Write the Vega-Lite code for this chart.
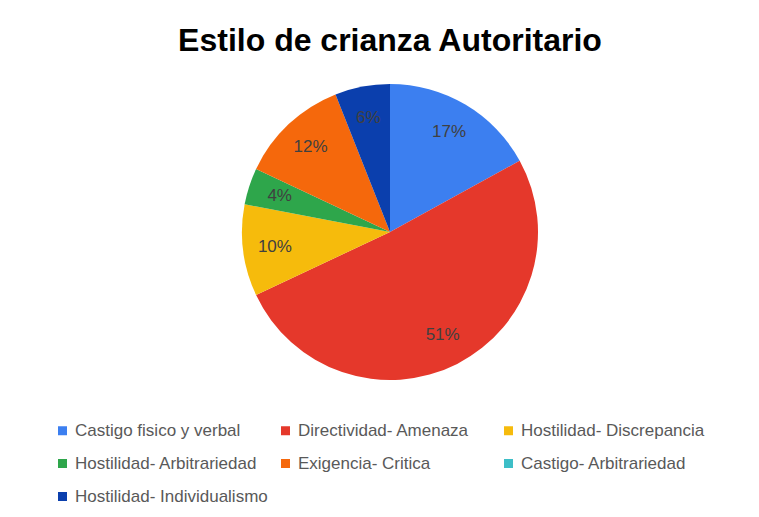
{
  "$schema": "https://vega.github.io/schema/vega-lite/v6.json",
  "autosize": {"type": "none"},
  "padding": {"left": 0, "top": 0, "right": 0, "bottom": 53},
  "width": 780,
  "height": 464,
  "background": "white",
  "view": {"stroke": null},
  "title": {
    "text": "Estilo de crianza Autoritario",
    "anchor": "middle",
    "orient": "top",
    "offset": -83,
    "baseline": "alphabetic",
    "font": "Liberation Sans",
    "fontSize": 32,
    "fontWeight": "bold",
    "color": "#000000"
  },
  "data": {
    "values": [
      {"categoria": "Castigo fisico y verbal", "valor": 0.17, "orden": 1},
      {"categoria": "Directividad- Amenaza", "valor": 0.51, "orden": 2},
      {"categoria": "Hostilidad- Discrepancia", "valor": 0.10, "orden": 3},
      {"categoria": "Hostilidad- Arbitrariedad", "valor": 0.04, "orden": 4},
      {"categoria": "Exigencia- Critica", "valor": 0.12, "orden": 5},
      {"categoria": "Castigo- Arbitrariedad", "valor": 0.0, "orden": 6},
      {"categoria": "Hostilidad- Individualismo", "valor": 0.06, "orden": 7}
    ]
  },
  "encoding": {
    "theta": {"field": "valor", "type": "quantitative", "stack": true},
    "order": {"field": "orden", "type": "quantitative"},
    "color": {
      "field": "categoria",
      "type": "nominal",
      "scale": {
        "domain": ["Castigo fisico y verbal", "Directividad- Amenaza", "Hostilidad- Discrepancia", "Hostilidad- Arbitrariedad", "Exigencia- Critica", "Castigo- Arbitrariedad", "Hostilidad- Individualismo"],
        "range": ["#3c7ff0", "#e5382b", "#f6bb0c", "#2ea64b", "#f5680c", "#3dbec7", "#0b3fad"]
      },
      "legend": {
        "title": null,
        "orient": "none",
        "legendX": 54,
        "legendY": 422,
        "direction": "horizontal",
        "columns": 3,
        "gridAlign": "all",
        "columnPadding": 9,
        "rowPadding": 15,
        "symbolType": "square",
        "symbolSize": 81,
        "symbolStrokeWidth": 0,
        "labelFont": "Liberation Sans",
        "labelFontSize": 17,
        "labelColor": "#595959",
        "labelOffset": 4,
        "labelLimit": 300
      }
    }
  },
  "layer": [
    {
      "mark": {"type": "arc", "outerRadius": 148, "stroke": null}
    },
    {
      "transform": [{"filter": "datum.valor > 0"}],
      "mark": {"type": "text", "radius": 116, "font": "Liberation Sans", "fontSize": 17},
      "encoding": {
        "text": {"field": "valor", "type": "quantitative", "format": ".0%"},
        "color": {"value": "#404040"}
      }
    }
  ]
}
